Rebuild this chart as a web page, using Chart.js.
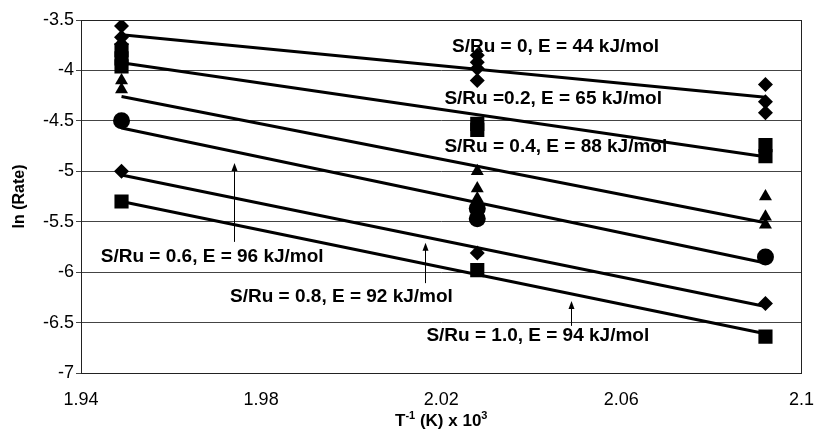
<!DOCTYPE html>
<html>
<head>
<meta charset="utf-8">
<script src="https://cdn.jsdelivr.net/npm/chart.js@4/dist/chart.umd.min.js"></script>
<style>
    html, body { margin: 0; padding: 0; background: #fff; }
    #wrap { width: 830px; height: 430px; }
</style>
</head>
<body>
<div id="wrap"><canvas id="arrheniusChart" width="830" height="430"></canvas></div>
<script>
// inverse temperature (1000/T) of the three runs
const invTemps = [1.949, 2.028, 2.092]

// ln(rate) points, one inner list per temperature
const rateS00 = [[-3.56, -3.67, -3.74], [-3.85, -3.92, -3.98, -4.10], [-4.14, -4.31, -4.42]]
const rateS02 = [[-3.80, -3.88, -3.96], [-4.53, -4.59], [-4.74, -4.85]]
const rateS04 = [[-4.10, -4.19], [-5.00, -5.17, -5.27], [-5.25, -5.45, -5.53]]
const rateS06 = [[-4.50], [-5.37, -5.47], [-5.85]]
const rateS08 = [[-5.00], [-5.81], [-6.31]]
const rateS10 = [[-5.30], [-5.98], [-6.64]]

// fitted lines: value at first and last temperature
const fitStart = [-3.646, -3.924, -4.259, -4.57, -5.036, -5.30]
const fitEnd = [-4.265, -4.855, -5.51, -5.91, -6.34, -6.61]

const seriesNames = ["S/Ru = 0", "S/Ru = 0.2", "S/Ru = 0.4", "S/Ru = 0.6", "S/Ru = 0.8", "S/Ru = 1.0"]
const markerStyles = ["rectRot", "rect", "triangle", "circle", "rectRot", "rect"]
const markerSizes = [7.5, 10, 7.5, 8.5, 7.5, 10]

const xTicks = [1.94, 1.98, 2.02, 2.06, 2.1]
const yTicks = [-7, -6.5, -6, -5.5, -5, -4.5, -4, -3.5]

// labels written on the plot
const noteTexts = [
    "S/Ru = 0, E = 44 kJ/mol",
    "S/Ru =0.2, E = 65 kJ/mol",
    "S/Ru = 0.4, E = 88 kJ/mol",
    "S/Ru = 0.6, E = 96 kJ/mol",
    "S/Ru = 0.8, E = 92 kJ/mol",
    "S/Ru = 1.0, E = 94 kJ/mol"
]
const noteX = [2.0224, 2.0207, 2.0207, 1.9444, 1.9731, 2.0167]
const noteY = [-3.762, -4.285, -4.755, -5.85, -6.245, -6.635]

// arrows pointing from the lower labels to their lines
const arrowX = [1.9739, 2.0163, 2.0488]
const arrowFrom = [-5.70, -6.109, -6.533]
const arrowTo = [-4.917, -5.709, -6.285]

const allRates = [rateS00, rateS02, rateS04, rateS06, rateS08, rateS10]

function toPoints(rates) {
    const pts = []
    rates.forEach((col, i) => {
        col.forEach(v => pts.push({ x: invTemps[i], y: v }))
    })
    return pts
}

const datasets = []

allRates.forEach((rates, i) => {
    datasets.push({
        type: "scatter",
        label: seriesNames[i],
        data: toPoints(rates),
        pointStyle: markerStyles[i],
        pointRadius: markerSizes[i],
        pointHoverRadius: markerSizes[i],
        backgroundColor: "#000",
        borderColor: "#000",
        borderWidth: 0,
        showLine: false,
        order: 1
    })
    datasets.push({
        type: "line",
        label: seriesNames[i] + " fit",
        data: [
            { x: invTemps[0], y: fitStart[i] },
            { x: invTemps[invTemps.length - 1], y: fitEnd[i] }
        ],
        borderColor: "#000",
        borderWidth: 3,
        pointRadius: 0,
        fill: false,
        order: 2
    })
})

const fontName = "'Liberation Sans', Arial, sans-serif"

const notesPlugin = {
    id: "notes",
    beforeDatasetsDraw(chart) {
        const { ctx, scales: { x, y } } = chart
        ctx.save()
        ctx.fillStyle = "#000"
        ctx.font = "bold 19px " + fontName
        ctx.textBaseline = "middle"
        ctx.textAlign = "left"
        noteTexts.forEach((t, i) => {
            ctx.fillText(t, x.getPixelForValue(noteX[i]), y.getPixelForValue(noteY[i]))
        })

        ctx.strokeStyle = "#000"
        ctx.lineWidth = 1
        arrowX.forEach((ax, i) => {
            const px = Math.round(x.getPixelForValue(ax)) + 0.5
            const y0 = y.getPixelForValue(arrowFrom[i])
            const y1 = y.getPixelForValue(arrowTo[i])
            ctx.beginPath()
            ctx.moveTo(px, y0)
            ctx.lineTo(px, y1 + 6)
            ctx.stroke()
            ctx.beginPath()
            ctx.moveTo(px, y1)
            ctx.lineTo(px - 3, y1 + 8)
            ctx.lineTo(px + 3, y1 + 8)
            ctx.closePath()
            ctx.fill()
        })
        ctx.restore()
    },
    afterDraw(chart) {
        // plot frame and the x axis title with superscripts
        const { ctx, chartArea: a } = chart
        ctx.save()
        ctx.strokeStyle = "#222"
        ctx.lineWidth = 1
        ctx.strokeRect(Math.round(a.left) + 0.5, Math.round(a.top) + 0.5, Math.round(a.right - a.left), Math.round(a.bottom - a.top))

        const parts = [
            { t: "T", sup: false },
            { t: "-1", sup: true },
            { t: " (K) x 10", sup: false },
            { t: "3", sup: true }
        ]
        const big = "bold 17px " + fontName
        const small = "bold 11px " + fontName
        let w = 0
        parts.forEach(p => {
            ctx.font = p.sup ? small : big
            w += ctx.measureText(p.t).width
        })
        let cx = (a.left + a.right) / 2 - w / 2
        const baseY = 426
        ctx.fillStyle = "#000"
        ctx.textBaseline = "alphabetic"
        ctx.textAlign = "left"
        parts.forEach(p => {
            ctx.font = p.sup ? small : big
            ctx.fillText(p.t, cx, p.sup ? baseY - 7 : baseY)
            cx += ctx.measureText(p.t).width
        })
        ctx.restore()
    }
}

new Chart(document.getElementById("arrheniusChart"), {
    type: "scatter",
    data: { datasets },
    plugins: [notesPlugin],
    options: {
        responsive: false,
        animation: false,
        devicePixelRatio: 1,
        layout: {
            padding: { top: 20, right: 15, left: 0, bottom: 0 }
        },
        plugins: {
            legend: { display: false },
            tooltip: { enabled: false }
        },
        scales: {
            x: {
                type: "linear",
                min: 1.94,
                max: 2.1,
                afterBuildTicks: scale => {
                    scale.ticks = xTicks.map(v => ({ value: v }))
                },
                afterFit: scale => { scale.height = 57 },
                ticks: {
                    color: "#000",
                    font: { family: fontName, size: 18 },
                    padding: 16,
                    maxRotation: 0,
                    callback: v => String(Number(v.toFixed(2)))
                },
                grid: { display: false, drawTicks: false },
                border: { display: true, color: "#000", width: 1 }
            },
            y: {
                type: "linear",
                min: -7,
                max: -3.5,
                afterBuildTicks: scale => {
                    scale.ticks = yTicks.map(v => ({ value: v }))
                },
                afterFit: scale => { scale.width = 81 },
                ticks: {
                    color: "#000",
                    font: { family: fontName, size: 18 },
                    padding: 2,
                    callback: v => String(v)
                },
                grid: {
                    color: "#444",
                    lineWidth: 1,
                    tickLength: 5,
                    drawTicks: true
                },
                border: { display: true, color: "#000", width: 1 },
                title: {
                    display: true,
                    text: "ln (Rate)",
                    color: "#000",
                    font: { family: fontName, size: 16, weight: "bold" },
                    padding: { top: 10, bottom: 0 }
                }
            }
        }
    }
})
</script>
</body>
</html>
